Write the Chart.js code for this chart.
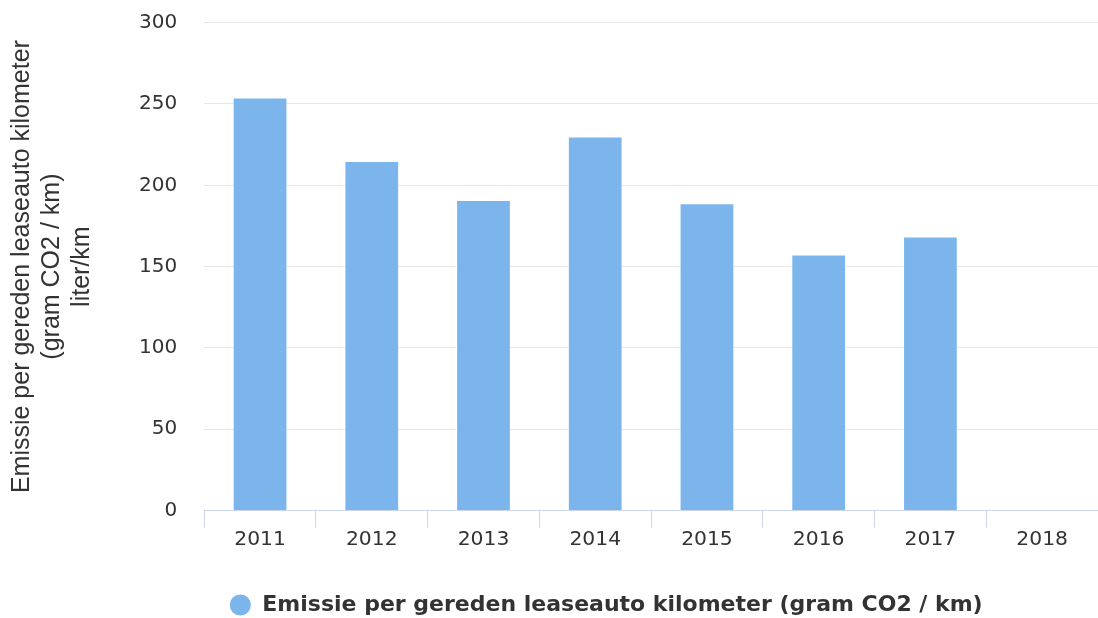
<!DOCTYPE html>
<html>
<head>
<meta charset="utf-8">
<script src="https://cdn.jsdelivr.net/npm/chart.js@4/dist/chart.umd.min.js"></script>
<style>
  html, body { margin: 0; padding: 0; background: #ffffff; }
  #wrap { width: 1098px; height: 618px; position: relative; }
</style>
</head>
<body>
<div id="wrap"><canvas id="c" width="1098" height="618"></canvas></div>
<script>
const categories = ['2011', '2012', '2013', '2014', '2015', '2016', '2017', '2018'];
const emissionValues = [254, 215, 191, 230, 189, 157.5, 168.5, null];
const seriesLabel = 'Emissie per gereden leaseauto kilometer (gram CO2 / km)';
const yTitleLines = ['Emissie per gereden leaseauto kilometer', '(gram CO2 / km)', 'liter/km'];
const yMin = 0, yMax = 300, yStep = 50;

const legendShift = {
  id: 'legendShift',
  afterLayout(chart) {
    const lg = chart.legend;
    if (lg) { lg.left += 114; lg.top += 8; lg.bottom += 8; }
  }
};

new Chart(document.getElementById('c'), {
  type: 'bar',
  data: {
    labels: categories,
    datasets: [{
      label: seriesLabel,
      data: emissionValues,
      backgroundColor: '#7cb5ec',
      borderColor: '#ffffff',
      borderWidth: 1,
      barPercentage: 1,
      categoryPercentage: 0.49
    }]
  },
  options: {
    responsive: false,
    animation: false,
    layout: { padding: { top: 22.7, left: 0, right: 0, bottom: 0 } },
    plugins: {
      tooltip: { enabled: false },
      legend: {
        position: 'bottom',
        labels: {
          usePointStyle: true,
          pointStyle: 'circle',
          boxHeight: 15.6,
          boxWidth: 22,
          padding: 3.5,
          color: '#333333',
          font: { family: 'DejaVu Sans', size: 22, weight: 'bold' }
        }
      }
    },
    scales: {
      x: {
        grid: { display: true, drawOnChartArea: false, drawTicks: true, tickLength: 17, color: '#ccd6eb', offset: true },
        border: { display: true, color: '#ccd6eb', width: 1 },
        ticks: { color: '#333333', padding: 0, font: { family: 'DejaVu Sans', size: 20.3 } },
        afterFit(scale) { scale.height = 72; }
      },
      y: {
        min: yMin, max: yMax,
        ticks: { stepSize: yStep, color: '#333333', padding: 0, font: { family: 'DejaVu Sans', size: 20 } },
        grid: { color: '#e6e6e6', drawTicks: true, tickLength: 27, tickColor: 'rgba(0,0,0,0)' },
        border: { display: false },
        title: {
          display: true,
          text: yTitleLines,
          color: '#333333',
          font: { family: 'Liberation Sans', size: 25, lineHeight: 1.2 },
          padding: { top: 7, bottom: 42 }
        }
      }
    }
  },
  plugins: [legendShift]
});
</script>
</body>
</html>
